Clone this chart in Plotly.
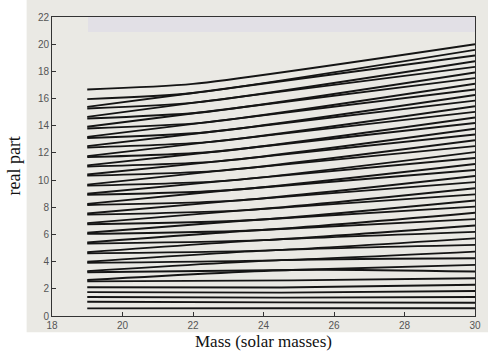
import plotly.graph_objects as go

# Each curve is read at three masses: start (M = 19), the near-crossing point, end (M = 30)
mass_start = 19.0
mass_end = 30.0

# Real part at M = 19, bottom curve to top curve
real_left = [0.56, 1.05, 1.40, 1.76, 2.11,
             2.55, 2.65, 3.22, 3.30, 3.91, 3.99, 4.61, 4.69, 5.33, 5.41,
             6.04, 6.12, 6.75, 6.83, 7.46, 7.54, 8.17, 8.25, 8.91, 8.99,
             9.59, 9.67, 10.33, 10.41, 11.00, 11.08, 11.69, 11.76, 12.40, 12.50,
             13.10, 13.18, 13.80, 13.92, 14.53, 14.65, 15.27, 15.39, 15.96, 16.67]

# Mass of the near-crossing point of each curve
mass_mid = [24.5, 24.5, 24.5, 24.5, 24.5,
            24.8, 24.8, 24.8, 24.5, 24.5, 24.2, 24.2, 24.0, 24.0, 23.8,
            23.8, 23.6, 23.6, 23.4, 23.4, 23.2, 23.2, 23.0, 23.0, 22.9,
            22.9, 22.8, 22.8, 22.7, 22.7, 22.6, 22.6, 22.5, 22.5, 22.4,
            22.4, 22.3, 22.3, 22.2, 22.2, 22.1, 22.1, 22.0, 22.0, 22.0]

# Real part at the near-crossing point
real_mid = [0.57, 1.00, 1.35, 1.72, 2.10,
            2.62, 3.39, 3.39, 4.11, 4.11, 4.83, 4.83, 5.58, 5.58, 6.31,
            6.31, 7.04, 7.04, 7.77, 7.77, 8.49, 8.49, 9.25, 9.25, 9.94,
            9.94, 10.70, 10.70, 11.38, 11.38, 12.09, 12.09, 12.81, 12.81, 13.52,
            13.52, 14.23, 14.23, 14.97, 14.97, 15.72, 15.72, 16.41, 16.41, 17.08]

# Real part at M = 30
real_right = [0.57, 0.98, 1.40, 1.84, 2.30, 2.78, 3.27, 3.76, 4.25, 4.74,
              5.23, 5.71, 6.19, 6.66, 7.13, 7.60,
              8.05, 8.50, 8.95, 9.40, 9.85, 10.30, 10.74, 11.18, 11.62, 12.06,
              12.50, 12.93, 13.36, 13.78,
              14.20, 14.61, 15.02, 15.43, 15.85, 16.26, 16.67, 17.09, 17.50, 17.92,
              18.33, 18.75, 19.17, 19.58, 20.00]

x_ticks = [18, 20, 22, 24, 26, 28, 30]
y_ticks = [0, 2, 4, 6, 8, 10, 12, 14, 16, 18, 20, 22]

fig = go.Figure()
for yl, xm, ym, yr in zip(real_left, mass_mid, real_mid, real_right):
    fig.add_trace(go.Scatter(x=[mass_start, xm, mass_end], y=[yl, ym, yr], mode="lines",
                             line=dict(color="#151515", width=1.9, shape="spline", smoothing=0.6),
                             showlegend=False, hoverinfo="skip"))

tick_font = dict(family="Liberation Sans, Arial, sans-serif", size=10, color="#555555")
serif = dict(family="Liberation Serif, Times New Roman, serif", color="#111111")

fig.update_layout(
    width=488, height=352,
    margin=dict(l=52, r=13, t=17, b=36),
    paper_bgcolor="#ffffff",
    plot_bgcolor="#eae9e4",
    showlegend=False,
    shapes=[
        dict(type="rect", xref="paper", yref="paper", x0=-0.06, x1=1.04, y0=-0.054, y1=1.06,
             fillcolor="#eae9e4", line=dict(width=0), layer="below"),
        dict(type="rect", xref="paper", yref="paper", x0=0.085, x1=1.0, y0=0.95, y1=1.0,
             fillcolor="#e2e0e6", line=dict(width=0), layer="below"),
    ],
    annotations=[
        dict(text="Mass (solar masses)", xref="paper", yref="paper", x=0.5, y=-0.084,
             xanchor="center", yanchor="middle", showarrow=False, font=dict(size=17, **serif)),
        dict(text="real part", xref="paper", yref="paper", x=-0.092, y=0.5, textangle=-90,
             xanchor="center", yanchor="middle", showarrow=False, font=dict(size=18, **serif)),
    ],
)
fig.update_xaxes(range=[18, 30], tickvals=x_ticks, ticks="inside", ticklen=4,
                 tickcolor="#333333", showline=True, linecolor="#333333", linewidth=1,
                 mirror=True, showgrid=False, zeroline=False, tickfont=tick_font,
                 automargin=False)
fig.update_yaxes(range=[0, 22], tickvals=y_ticks, ticks="inside", ticklen=4,
                 tickcolor="#333333", showline=True, linecolor="#333333", linewidth=1,
                 mirror=True, showgrid=False, zeroline=False, tickfont=tick_font,
                 automargin=False)

fig.write_html("out.html")
